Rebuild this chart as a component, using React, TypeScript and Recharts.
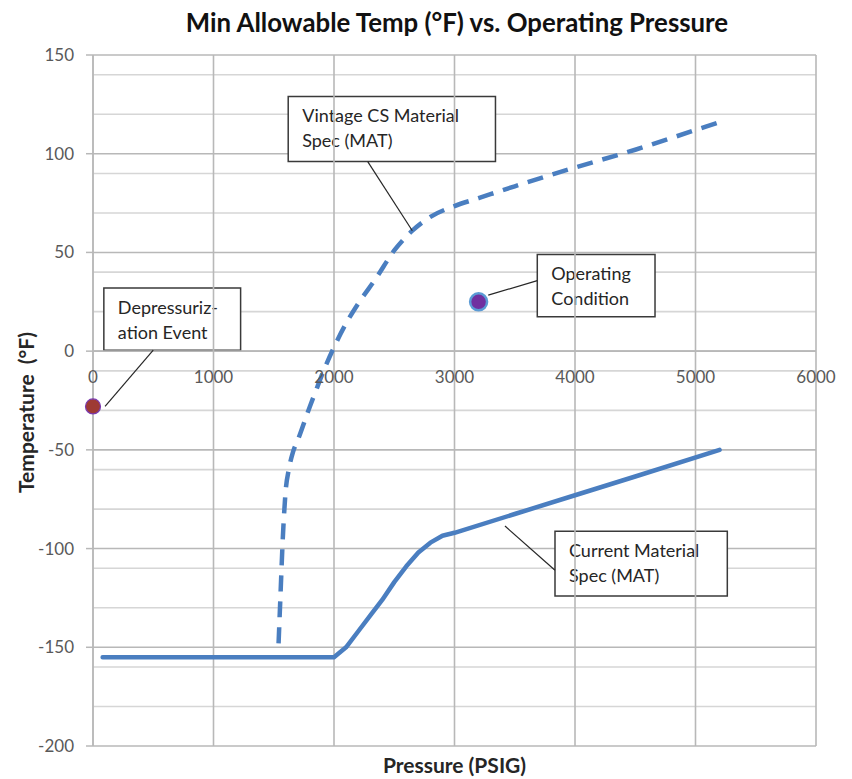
import React from "react";
import {
  ComposedChart,
  Line,
  Scatter,
  XAxis,
  YAxis,
  CartesianGrid,
  ReferenceLine,
  ReferenceDot,
  ReferenceArea,
} from "recharts";

const PRESSURE_TICKS = [0, 1000, 2000, 3000, 4000, 5000, 6000];
const TEMP_TICKS = [-200, -150, -100, -50, 0, 50, 100, 150];
const TEMP_MINOR = [
  -190, -180, -170, -160, -140, -130, -120, -110, -90, -80, -70, -60, -40, -30, -20, -10,
  10, 20, 30, 40, 60, 70, 80, 90, 110, 120, 130, 140,
];

// Current Material Spec (MAT)
const CURRENT_PRESSURE = [
  80, 2000, 2100, 2200, 2300, 2400, 2500, 2600, 2700, 2800, 2900, 3000, 3500, 4000, 4500, 5200,
];
const CURRENT_TEMP = [
  -155, -155, -150, -142, -134, -126, -117, -109, -102, -97, -93.5, -92, -82.5, -73, -63.5, -50,
];

// Vintage CS Material Spec (MAT)
const VINTAGE_PRESSURE = [
  1540, 1555, 1575, 1600, 1625, 1660, 1700, 1800, 1850, 1900, 2000, 2100, 2200, 2350, 2500,
  2650, 2800, 3000, 3200, 3500, 4000, 4500, 5000, 5200,
];
const VINTAGE_TEMP = [
  -148, -125, -95, -70, -60, -51, -45, -28, -20, -12, 2, 14, 24, 37, 51, 61, 68, 73.5, 77.5,
  83.5, 93, 102, 112, 116,
];

const DEPRESSURIZATION = [{ pressure: 0, temp: -28 }];
const OPERATING = [{ pressure: 3200, temp: 25 }];

const currentData = CURRENT_PRESSURE.map((p, i) => ({ pressure: p, temp: CURRENT_TEMP[i] }));
const vintageData = VINTAGE_PRESSURE.map((p, i) => ({ pressure: p, temp: VINTAGE_TEMP[i] }));

const FONT = "Lato, 'Open Sans', sans-serif";
const BLUE = "#4A7EC0";
const TICK_GREY = "#595959";
const MAJOR_GRID = "#B8B8B8";

function boxText(lines: string[]) {
  return (props: any) => {
    const { x, y } = props.viewBox;
    return (
      <text x={x + 14} y={y + 26} fontSize={18} fill="#262626" fontFamily={FONT}>
        {lines.map((l, i) => (
          <tspan key={i} x={x + 14} dy={i === 0 ? 0 : 25}>
            {l}
          </tspan>
        ))}
      </text>
    );
  };
}

const boxStyle = { fill: "#ffffff", fillOpacity: 1, stroke: "#3a3a3a", strokeWidth: 1.5 };
const leaderStyle = { stroke: "#262626", strokeWidth: 1.2 };

export default function App() {
  return (
    <div style={{ position: "absolute", left: 0, top: 0, width: 852, height: 779, background: "#fff" }}>
      <ComposedChart width={852} height={779} margin={{ top: 55, right: 36, bottom: 0, left: 0 }}>
        <CartesianGrid horizontalValues={TEMP_MINOR} vertical={false} stroke="#D6D6D6" strokeWidth={1.6} />
        <CartesianGrid horizontalValues={TEMP_TICKS} vertical={false} stroke={MAJOR_GRID} strokeWidth={1.6} />
        {PRESSURE_TICKS.map((t) => (
          <ReferenceLine key={`v${t}`} x={t} stroke={MAJOR_GRID} strokeWidth={1.6} />
        ))}
        <XAxis
          type="number"
          dataKey="pressure"
          domain={[0, 6000]}
          ticks={PRESSURE_TICKS}
          tick={false}
          tickLine={false}
          axisLine={false}
          height={33}
          label={{
            content: (props: any) => {
              const { x, y, width } = props.viewBox;
              return (
                <text
                  x={x + width / 2}
                  y={y + 27}
                  textAnchor="middle"
                  fontSize={21}
                  fontWeight={700}
                  fill="#262626"
                  fontFamily={FONT}
                >
                  Pressure (PSIG)
                </text>
              );
            },
          }}
        />
        <YAxis
          type="number"
          dataKey="temp"
          domain={[-200, 150]}
          ticks={TEMP_TICKS}
          width={93}
          tickSize={7}
          tickMargin={12}
          tickLine={{ stroke: MAJOR_GRID, strokeWidth: 1.5 }}
          axisLine={{ stroke: MAJOR_GRID, strokeWidth: 1.5 }}
          tick={{ fill: TICK_GREY, fontSize: 17, fontFamily: FONT }}
          label={{
            content: (props: any) => {
              const { y, height } = props.viewBox;
              const cx = 34;
              const cy = y + height / 2 + 12;
              return (
                <text
                  x={cx}
                  y={cy}
                  transform={`rotate(-90 ${cx} ${cy})`}
                  textAnchor="middle"
                  fontSize={21}
                  fontWeight={700}
                  fill="#262626"
                  fontFamily={FONT}
                >
                  {"Temperature\u00a0\u00a0(°F)"}
                </text>
              );
            },
          }}
        />
        <ReferenceLine y={0} stroke={MAJOR_GRID} strokeWidth={1.6} />
        {PRESSURE_TICKS.map((t) => (
          <ReferenceDot
            key={t}
            x={t}
            y={0}
            r={0}
            fill="none"
            stroke="none"
            ifOverflow="visible"
            label={{ value: String(t), position: "bottom", offset: 20, fill: TICK_GREY, fontSize: 17, fontFamily: FONT }}
          />
        ))}
        <Line
          data={currentData}
          dataKey="temp"
          type="linear"
          stroke={BLUE}
          strokeWidth={4.5}
          dot={false}
          activeDot={false}
          strokeLinecap="round"
          strokeLinejoin="round"
          isAnimationActive={false}
        />
        <Line
          data={vintageData}
          dataKey="temp"
          type="monotone"
          stroke={BLUE}
          strokeWidth={4.5}
          strokeDasharray="16 10"
          dot={false}
          activeDot={false}
          isAnimationActive={false}
        />
        <Scatter
          data={DEPRESSURIZATION}
          dataKey="temp"
          isAnimationActive={false}
          shape={(p: any) => <circle cx={p.cx} cy={p.cy} r={7.5} fill="#9E3A34" stroke="#7A3AB0" strokeWidth={1.2} />}
        />
        <Scatter
          data={OPERATING}
          dataKey="temp"
          isAnimationActive={false}
          shape={(p: any) => <circle cx={p.cx} cy={p.cy} r={8.5} fill="#7030A0" stroke="#5B9BD5" strokeWidth={2.5} />}
        />
        <ReferenceLine segment={[{ x: 2280, y: 96 }, { x: 2650, y: 61 }]} ifOverflow="visible" {...leaderStyle} />
        <ReferenceLine segment={[{ x: 500, y: 0.5 }, { x: 100, y: -28 }]} ifOverflow="visible" {...leaderStyle} />
        <ReferenceLine segment={[{ x: 3687, y: 35.7 }, { x: 3280, y: 28.4 }]} ifOverflow="visible" {...leaderStyle} />
        <ReferenceLine segment={[{ x: 3834, y: -111 }, { x: 3419, y: -88.6 }]} ifOverflow="visible" {...leaderStyle} />
        <ReferenceArea
          x1={1620}
          x2={3340}
          y1={96}
          y2={129}
          ifOverflow="visible"
          {...boxStyle}
          label={{ content: boxText(["Vintage CS Material", "Spec (MAT)"]) }}
        />
        <ReferenceArea
          x1={90}
          x2={1225}
          y1={0.5}
          y2={32}
          ifOverflow="visible"
          {...boxStyle}
          label={{ content: boxText(["Depressuriz-", "ation Event"]) }}
        />
        <ReferenceArea
          x1={3687}
          x2={4664}
          y1={17.4}
          y2={49}
          ifOverflow="visible"
          {...boxStyle}
          label={{ content: boxText(["Operating", "Condition"]) }}
        />
        <ReferenceArea
          x1={3834}
          x2={5264}
          y1={-124}
          y2={-91.2}
          ifOverflow="visible"
          {...boxStyle}
          label={{ content: boxText(["Current Material", "Spec (MAT)"]) }}
        />
      </ComposedChart>
      <svg width={852} height={50} style={{ position: "absolute", left: 0, top: 0, pointerEvents: "none" }}>
        <text x={457} y={32} textAnchor="middle" fontSize={25.8} fontWeight={700} fill="#111111" fontFamily={FONT}>
          Min Allowable Temp (°F) vs. Operating Pressure
        </text>
      </svg>
    </div>
  );
}
